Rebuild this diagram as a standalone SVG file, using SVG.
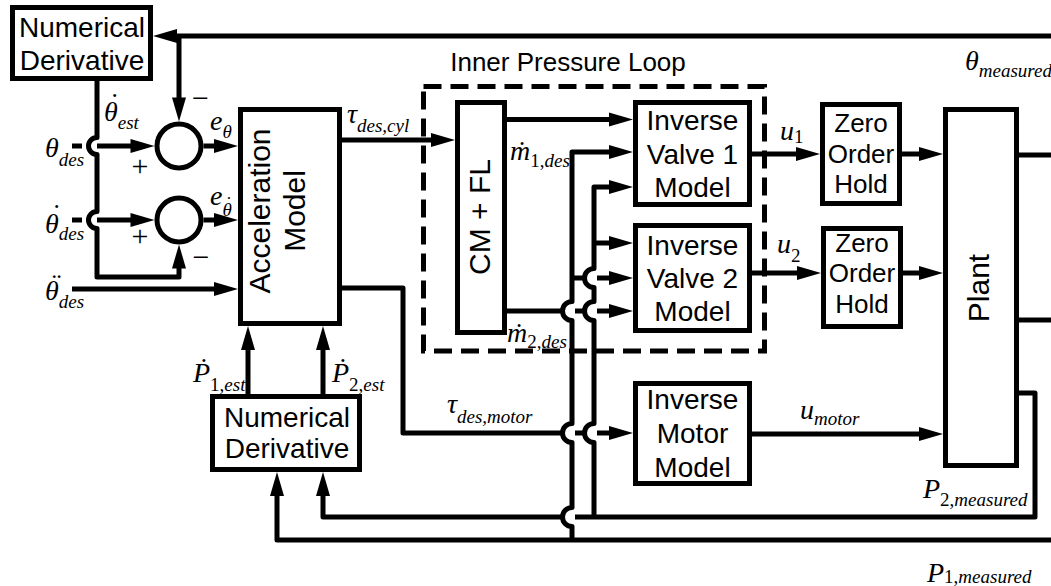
<svg xmlns="http://www.w3.org/2000/svg" width="1051" height="586" viewBox="0 0 1051 586">
<defs>
<marker id="arr" markerUnits="userSpaceOnUse" markerWidth="24" markerHeight="14" refX="1" refY="7" orient="auto" overflow="visible">
<path d="M0,0 L24,7 L0,14 z" fill="#000"/>
</marker>
<style>
.box{fill:#fff;stroke:#000;stroke-width:5}
.w path{fill:none;stroke:#000;stroke-width:5;stroke-linejoin:round}
.w path.a{marker-end:url(#arr)}
.t{font-family:"Liberation Sans",Arial,sans-serif;fill:#000;text-anchor:middle}
.m{font-family:"Liberation Serif","Times New Roman",serif;font-style:italic;fill:#000;font-size:28px}
.s{font-size:19px}
.u{font-style:normal}
.sg{font-family:"Liberation Serif","Times New Roman",serif;fill:#000;font-size:30px;text-anchor:middle}
</style>
</defs>
<rect width="1051" height="586" fill="#fff"/>

<g id="inner-pressure-loop">
<rect x="423.5" y="86.5" width="341" height="264.5" fill="none" stroke="#000" stroke-width="5" stroke-dasharray="18 9"/>
<text class="t" x="568" y="71" font-size="26">Inner Pressure Loop</text>
</g>

<g id="connectors" class="w">
<path d="M1051,36 H176" class="a"/>
<path d="M179,36 V98.5" class="a"/>
<path d="M97,81 V137.5 A8.5,8.5 0 0 0 97,154.5 V211.5 A8.5,8.5 0 0 0 97,228.5 V277 H179 V267.5" class="a"/>
<path d="M72,146 H82"/>
<path d="M97,146 H131.5" class="a"/>
<path d="M72,220 H82"/>
<path d="M97,220 H131.5" class="a"/>
<path d="M203.5,146 H215" class="a"/>
<path d="M203.5,220 H215" class="a"/>
<path d="M72,289 H215" class="a"/>
<path d="M342,140 H432" class="a"/>
<path d="M248,394 V349" class="a"/>
<path d="M323,394 V349" class="a"/>
<path d="M342,288 H403 V433 H562"/>
<path d="M575,433 H584"/>
<path d="M597,433 H610" class="a"/>
<path d="M507,119.5 H610" class="a"/>
<path d="M507,311 H562"/>
<path d="M575,311 H584"/>
<path d="M597,311 H610" class="a"/>
<path d="M1051,540 H277 V495" class="a"/>
<path d="M572,540 V526.5 A9.5,9.5 0 0 1 572,507.5 V442.5 A9.5,9.5 0 0 1 572,423.5 V320.5 A9.5,9.5 0 0 1 572,301.5 V152 H610" class="a"/>
<path d="M572,278 H584"/>
<path d="M597,278 H610" class="a"/>
<path d="M1019,393 H1035 V517 H575"/>
<path d="M562,517 H323 V495" class="a"/>
<path d="M594,517 V442.5 A9.5,9.5 0 0 1 594,423.5 V320.5 A9.5,9.5 0 0 1 594,301.5 V287.5 A9.5,9.5 0 0 1 594,268.5 V187 H610" class="a"/>
<path d="M594,243 H610" class="a"/>
<path d="M752,154 H797" class="a"/>
<path d="M902,154 H920" class="a"/>
<path d="M752,273 H798" class="a"/>
<path d="M903,273 H920" class="a"/>
<path d="M752,434 H920" class="a"/>
<path d="M1019,155 H1051"/>
<path d="M1019,320 H1051"/>
</g>

<g id="signal-labels">
<text class="m" x="45" y="157">θ<tspan class="s" dy="9">des</tspan></text>
<text class="m" x="45" y="233">θ<tspan class="u" dx="-6.7" dy="-10">˙</tspan><tspan class="s" dx="-2.6" dy="17">des</tspan></text>
<text class="m" x="45" y="300">θ<tspan class="u" dx="-6.7" dy="-7">¨</tspan><tspan class="s" dx="-2.6" dy="15">des</tspan></text>
<text class="m" x="104" y="121">θ<tspan class="u" dx="-7.7" dy="-9">˙</tspan><tspan class="s" dx="-1.6" dy="17">est</tspan></text>
<text class="m" x="210" y="130">e<tspan class="s" dy="8">θ</tspan></text>
<text class="m" x="210" y="205">e<tspan class="s" dy="11">θ<tspan class="u" dx="-6.1" dy="-6">˙</tspan></tspan></text>
<text class="m" x="347" y="123">τ<tspan class="s" dy="9">des,cyl</tspan></text>
<text class="m" x="510" y="160">ṁ<tspan class="s" dy="7"><tspan class="u">1,</tspan>des</tspan></text>
<text class="m" x="507" y="342">ṁ<tspan class="s" dy="6"><tspan class="u">2,</tspan>des</tspan></text>
<text class="m" x="780" y="140">u<tspan class="s u" dy="3">1</tspan></text>
<text class="m" x="777" y="253">u<tspan class="s u" dy="9">2</tspan></text>
<text class="m" x="800" y="419">u<tspan class="s" dy="6">motor</tspan></text>
<text class="m" x="447" y="413">τ<tspan class="s" dy="10">des,motor</tspan></text>
<text class="m" x="193" y="382">Ṗ<tspan class="s" dy="9"><tspan class="u">1,</tspan>est</tspan></text>
<text class="m" x="332" y="382">Ṗ<tspan class="s" dy="9"><tspan class="u">2,</tspan>est</tspan></text>
<text class="m" x="965" y="70">θ<tspan class="s" dy="7">measured</tspan></text>
<text class="m" x="923" y="498">P<tspan class="s" dy="8"><tspan class="u">2,</tspan>measured</tspan></text>
<text class="m" x="927" y="582">P<tspan class="s" dy="1"><tspan class="u">1,</tspan>measured</tspan></text>
<text class="sg" x="200.5" y="107.5">−</text>
<text class="sg" x="140" y="175.5">+</text>
<text class="sg" x="140" y="245.5">+</text>
<text class="sg" x="201" y="267">−</text>
</g>

<g id="numerical-derivative-top">
<rect class="box" x="12.5" y="7.5" width="138" height="71"/>
<text class="t" x="82" y="37" font-size="28">Numerical</text>
<text class="t" x="82" y="70" font-size="28">Derivative</text>
</g>

<g id="sum-theta"><circle class="box" cx="179" cy="146" r="22"/></g>
<g id="sum-theta-dot"><circle class="box" cx="179" cy="220" r="22"/></g>

<g id="acceleration-model">
<rect class="box" x="240.5" y="109.5" width="99" height="214"/>
<text class="t" font-size="30" transform="translate(0,211) rotate(-90)"><tspan x="0" y="270">Acceleration</tspan><tspan x="0" y="305">Model</tspan></text>
</g>

<g id="cm-fl">
<rect class="box" x="457.5" y="102.5" width="47" height="230"/>
<text class="t" font-size="30" transform="translate(0,217) rotate(-90)" x="0" y="490">CM + FL</text>
</g>

<g id="inverse-valve-1">
<rect class="box" x="635.5" y="102.5" width="114" height="102"/>
<text class="t" font-size="28" x="692.5" y="130">Inverse</text>
<text class="t" font-size="28" x="692.5" y="164">Valve 1</text>
<text class="t" font-size="28" x="692.5" y="197">Model</text>
</g>

<g id="inverse-valve-2">
<rect class="box" x="635.5" y="225.5" width="114" height="105"/>
<text class="t" font-size="28" x="692.5" y="255">Inverse</text>
<text class="t" font-size="28" x="692.5" y="288">Valve 2</text>
<text class="t" font-size="28" x="692.5" y="321">Model</text>
</g>

<g id="inverse-motor-model">
<rect class="box" x="635.5" y="383.5" width="114" height="100"/>
<text class="t" font-size="28" x="692.5" y="409">Inverse</text>
<text class="t" font-size="28" x="692.5" y="443">Motor</text>
<text class="t" font-size="28" x="692.5" y="477">Model</text>
</g>

<g id="zoh-1">
<rect class="box" x="822.5" y="104.5" width="77" height="99"/>
<text class="t" font-size="26" x="861" y="132">Zero</text>
<text class="t" font-size="26" x="861" y="163">Order</text>
<text class="t" font-size="26" x="861" y="193">Hold</text>
</g>

<g id="zoh-2">
<rect class="box" x="823.5" y="228.5" width="77" height="98"/>
<text class="t" font-size="26" x="862" y="252">Zero</text>
<text class="t" font-size="26" x="862" y="282">Order</text>
<text class="t" font-size="26" x="862" y="313">Hold</text>
</g>

<g id="plant">
<rect class="box" x="945.5" y="109.5" width="71" height="356"/>
<text class="t" font-size="30" transform="translate(0,288) rotate(-90)" x="0" y="989">Plant</text>
</g>

<g id="numerical-derivative-bottom">
<rect class="box" x="212.5" y="396.5" width="147" height="73"/>
<text class="t" font-size="28" x="287" y="427">Numerical</text>
<text class="t" font-size="28" x="287" y="458">Derivative</text>
</g>
</svg>
